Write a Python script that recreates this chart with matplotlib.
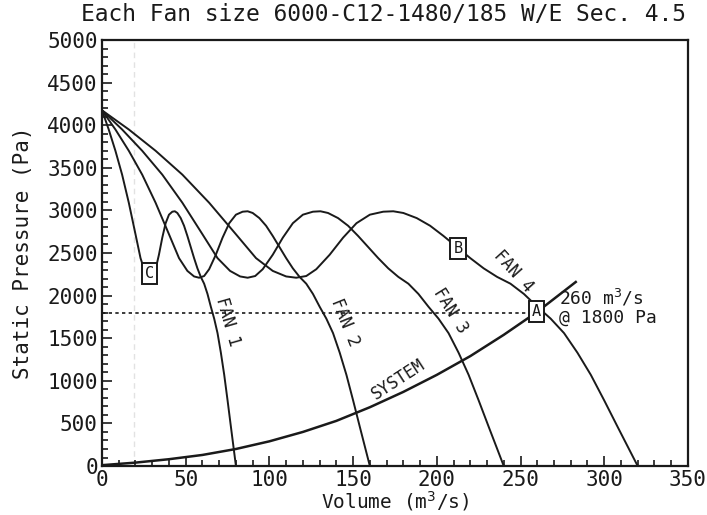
import matplotlib.pyplot as plt
from matplotlib.ticker import MultipleLocator

# fan pressure (Pa), same for every fan
pressure = [4175, 3950, 3700, 3420, 3090, 2720, 2440, 2290, 2225, 2210, 2230,
            2310, 2480, 2680, 2850, 2950, 2985, 2990, 2970, 2910, 2820, 2700,
            2570, 2440, 2320, 2220, 2140, 2020, 1870, 1730, 1560, 1330, 1070,
            770, 460, 230, 0]

# volumes read for each fan curve (m3/s)
fan1_vol = [0, 4, 8, 12, 16, 20, 23, 25.5, 27.5, 29, 30.5, 32, 34, 36, 38, 40,
            42, 43.5, 45, 47, 49, 51, 53, 55, 57, 59, 61, 63, 65, 67, 69, 71,
            73, 75, 77, 78.5, 80]
fan2_vol = [0, 8, 16, 24, 32, 40, 46, 51, 55, 58, 61, 64, 68, 72, 76, 80, 84,
            87, 90, 94, 98, 102, 106, 110, 114, 118, 122, 126, 130, 134, 138,
            142, 146, 150, 154, 157, 160]
fan3_vol = [0, 12, 24, 36, 48, 60, 69, 76.5, 82.5, 87, 91.5, 96, 102, 108, 114,
            120, 126, 130.5, 135, 141, 147, 153, 159, 165, 171, 177, 183, 189,
            195, 201, 207, 213, 219, 225, 231, 235.5, 240]
fan4_vol = [0, 16, 32, 48, 64, 80, 92, 102, 110, 116, 122, 128, 136, 144, 152,
            160, 168, 174, 180, 188, 196, 204, 212, 220, 228, 236, 244, 252,
            260, 268, 276, 284, 292, 300, 308, 314, 320]

# system curve
sys_vol = [0, 20, 40, 60, 80, 100, 120, 140, 160, 180, 200, 220, 240, 260, 283]
sys_pres = [10, 40, 80, 130, 200, 290, 400, 530, 690, 870, 1070, 1290, 1540,
            1810, 2160]

# operating point
op_vol = 260
op_pres = 1800

font = "DejaVu Sans Mono"
ink = "#1a1a1a"

fig = plt.figure(figsize=(7.07, 5.15), dpi=100)
ax = fig.add_axes([0.1443, 0.0951, 0.8287, 0.8272])

# faint scan line
ax.axvline(19, color="#e2e2e2", lw=1, ls=(0, (4, 3)), zorder=0)

for vol in [fan1_vol, fan2_vol, fan3_vol, fan4_vol]:
    ax.plot(vol, pressure, color=ink, lw=1.4)
ax.plot(sys_vol, sys_pres, color=ink, lw=1.8)

# dotted line to operating point
ax.plot([0, op_vol], [op_pres, op_pres], color=ink, lw=1.2, ls=(0, (2, 2)))

# labels on the curves
ax.text(75, 1690, "FAN 1", rotation=-74, ha="center", va="center",
        family=font, fontsize=12, color=ink)
ax.text(145, 1690, "FAN 2", rotation=-68, ha="center", va="center",
        family=font, fontsize=12, color=ink)
ax.text(208, 1820, "FAN 3", rotation=-58, ha="center", va="center",
        family=font, fontsize=12, color=ink)
ax.text(246, 2290, "FAN 4", rotation=-48, ha="center", va="center",
        family=font, fontsize=12, color=ink)
ax.text(177, 1020, "SYSTEM", rotation=33, ha="center", va="center",
        family=font, fontsize=12, color=ink)
ax.text(273, 1975, "260 m$^3$/s", ha="left", va="center",
        family=font, fontsize=13, color=ink)
ax.text(273, 1740, "@ 1800 Pa", ha="left", va="center",
        family=font, fontsize=13, color=ink)

# boxed points
box = dict(boxstyle="square,pad=0.2", fc="white", ec=ink, lw=1.4)
ax.text(259.6, 1810, "A", ha="center", va="center", family=font,
        fontsize=11, bbox=box, color=ink)
ax.text(212.7, 2558, "B", ha="center", va="center", family=font,
        fontsize=11, bbox=box, color=ink)
ax.text(28.4, 2257, "C", ha="center", va="center", family=font,
        fontsize=11, bbox=box, color=ink)

ax.set_xlim(0, 350)
ax.set_ylim(0, 5000)
ax.xaxis.set_major_locator(MultipleLocator(50))
ax.xaxis.set_minor_locator(MultipleLocator(10))
ax.yaxis.set_major_locator(MultipleLocator(500))
ax.yaxis.set_minor_locator(MultipleLocator(100))
ax.tick_params(which="both", direction="in", top=False, right=False,
               color=ink, width=1.2)
ax.tick_params(which="major", length=7, pad=3, labelsize=15)
ax.tick_params(which="minor", length=4)
for lab in ax.get_xticklabels() + ax.get_yticklabels():
    lab.set_family(font)
    lab.set_color(ink)
for s in ax.spines.values():
    s.set_linewidth(1.6)
    s.set_color(ink)

ax.set_xlabel("Volume (m$^3$/s)", family=font, fontsize=14, color=ink,
              labelpad=-1)
ax.set_ylabel("Static Pressure (Pa)", family=font, fontsize=15, color=ink,
              labelpad=10)
fig.text(0.542, 0.972, "Each Fan size 6000-C12-1480/185 W/E Sec. 4.5",
         ha="center", va="center", family=font, fontsize=16.5, color=ink)

fig.savefig("out.png", dpi=100)
